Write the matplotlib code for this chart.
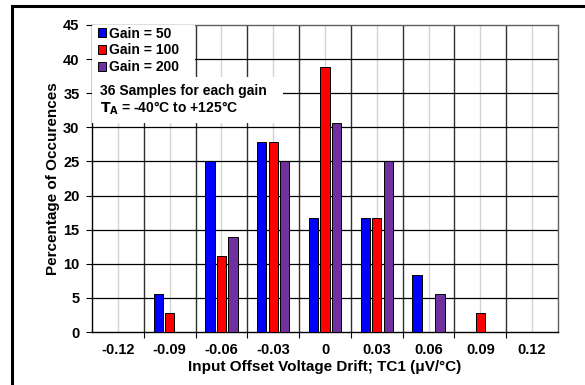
import matplotlib
matplotlib.use('Agg')
import matplotlib.pyplot as plt
from matplotlib.patches import Rectangle
import numpy as np

categories = ['-0.12', '-0.09', '-0.06', '-0.03', '0', '0.03', '0.06', '0.09', '0.12']
gain50 = [0, 5.6, 25.0, 27.8, 16.7, 16.7, 8.3, 0, 0]
gain100 = [0, 2.8, 11.1, 27.8, 38.9, 16.7, 0, 2.8, 0]
gain200 = [0, 0, 13.9, 25.0, 30.6, 25.0, 5.6, 0, 0]
series = ['Gain = 50', 'Gain = 100', 'Gain = 200']
colors = ['#0000ff', '#ff0000', '#7030a0']

plt.rcParams['font.family'] = ['Liberation Sans', 'DejaVu Sans']
plt.rcParams['font.weight'] = 'bold'
plt.rcParams['axes.labelweight'] = 'bold'

fig = plt.figure(figsize=(5.85, 3.85), dpi=100)
ax = fig.add_axes([92 / 585, 1 - 332 / 385, 466 / 585, 307 / 385])

x = np.arange(len(categories))
width = 0.18
offset = 0.222
for i, (vals, name, c) in enumerate(zip([gain50, gain100, gain200], series, colors)):
    ax.bar(x + (i - 1) * offset, vals, width, color=c, edgecolor='black',
           linewidth=0.7, label=name, zorder=3)

ax.set_xlim(-0.5, len(categories) - 0.5)
ax.set_ylim(0, 45)
ax.set_yticks(np.arange(0, 46, 5))
ax.set_xticks(x)
ax.set_xticklabels(categories)
ax.set_xticks(x[:-1] + 0.5, minor=True)
ax.tick_params(axis='x', which='major', length=0, pad=8, labelsize=10.5)
ax.tick_params(axis='x', which='minor', length=4, width=0.8, direction='out')
ax.tick_params(axis='y', length=4, width=0.8, direction='out', labelsize=10.5, pad=5)

# grid lines
for b in x[:-1] + 0.5:
    ax.axvline(b, color='#303030', linewidth=1.0, zorder=1)
for c in x:
    ax.axvline(c, color='#d4d4d4', linewidth=1.0, zorder=1)
for yv in range(5, 45, 5):
    ax.axhline(yv, color='black', linewidth=0.9, zorder=1)

for s in ['left', 'bottom']:
    ax.spines[s].set_linewidth(1.0)
for s in ['top', 'right']:
    ax.spines[s].set_color('#606060')
    ax.spines[s].set_linewidth(1.0)

ax.set_xlabel('Input Offset Voltage Drift; TC1 (μV/°C)', fontsize=11, labelpad=2)
ax.set_ylabel('Percentage of Occurences', fontsize=11, labelpad=2.5)

# white boxes behind legend and note
ax.add_patch(Rectangle((0, 0.831), 0.221, 0.169, transform=ax.transAxes,
                       facecolor='white', edgecolor='none', zorder=4))
ax.add_patch(Rectangle((0, 0.681), 0.41, 0.15, transform=ax.transAxes,
                       facecolor='white', edgecolor='none', zorder=4))

leg = ax.legend(loc='upper left', bbox_to_anchor=(0.012, 0.995), fontsize=10,
                frameon=False, handlelength=0.6, handleheight=0.6, handletextpad=0.2,
                labelspacing=0.2, borderpad=0.0, borderaxespad=0.0)
leg.set_zorder(5)

ax.text(0.017, 0.808, '36 Samples for each gain\n$\\mathbf{T_A}$ = -40°C to +125°C',
        transform=ax.transAxes, fontsize=10, va='top', ha='left', zorder=6,
        linespacing=1.15)

fig.add_artist(Rectangle((12 / 585, -0.05), 1, 1.05 - 6 / 385, transform=fig.transFigure,
                         fill=False, edgecolor='black', linewidth=2.2))

fig.savefig('out.png', dpi=100)
